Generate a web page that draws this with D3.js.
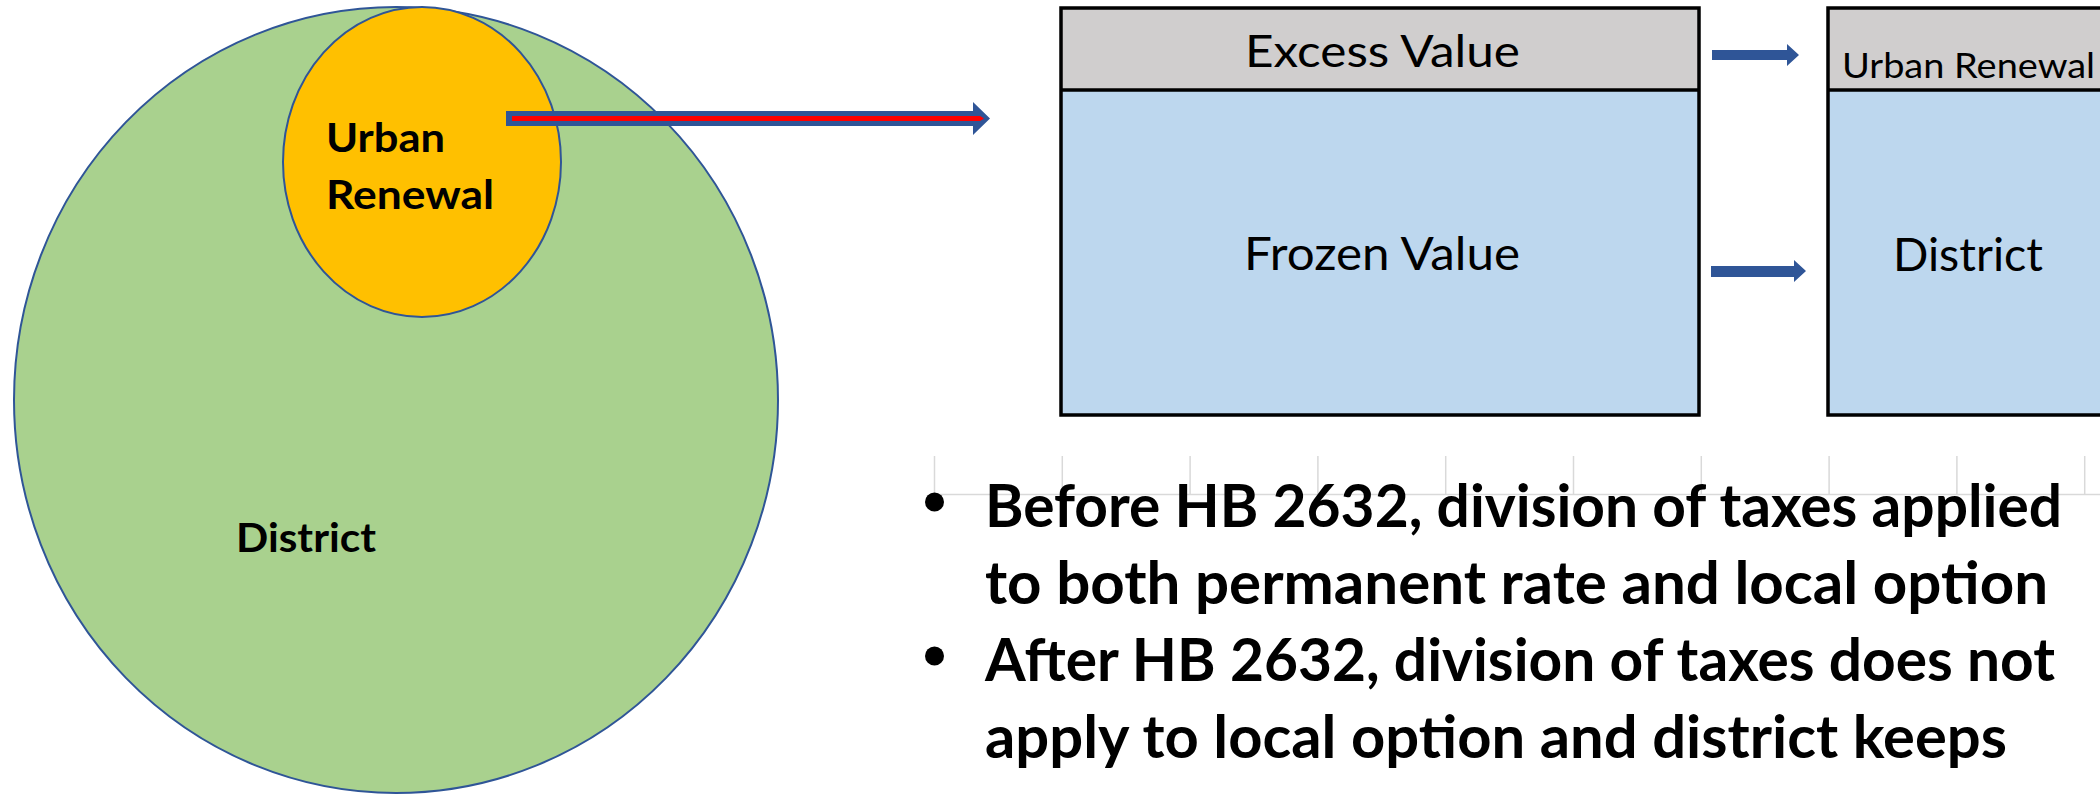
<!DOCTYPE html>
<html>
<head>
<meta charset="utf-8">
<script src="https://cdn.jsdelivr.net/npm/d3@7"></script>
<style>
  html, body { margin: 0; padding: 0; background: #fff; }
  svg { display: block; }
</style>
</head>
<body>
<div id="chart"></div>
<script>
// ------------------------------------------------------------
// Data: labels and text of the diagram
// ------------------------------------------------------------
const circleLabels = ["Urban", "Renewal"];
const districtLabel = "District";
const leftBoxLabels = ["Excess Value", "Frozen Value"];
const rightBoxLabels = ["Urban Renewal", "District"];
const bulletLines = [
  "Before HB 2632, division of taxes applied",
  "to both permanent rate and local option",
  "After HB 2632, division of taxes does not",
  "apply to local option and district keeps"
];
const bulletStarts = [0, 2];          // which lines carry a bullet
const gridTicks = [0, 1, 2, 3, 4, 5, 6, 7, 8, 9];

const W = 2100, H = 796;
const BLUE = "#2F5597";
const FONT = "Lato, 'Open Sans', 'Liberation Sans', sans-serif";

const svg = d3.select("#chart").append("svg")
  .attr("width", W).attr("height", H)
  .attr("viewBox", `0 0 ${W} ${H}`);

// ------------------------------------------------------------
// Faint axis / gridlines behind the bullet text
// ------------------------------------------------------------
const xGrid = d3.scaleLinear().domain([0, 10]).range([934, 2212]);
const gridG = svg.append("g")
  .attr("transform", "translate(0,494)")
  .call(d3.axisTop(xGrid).tickValues(gridTicks).tickSize(38).tickSizeOuter(0).tickFormat(""));
gridG.selectAll("path, line").attr("stroke", "#d9d9d9").attr("stroke-width", 1.5);

// ------------------------------------------------------------
// Circles
// ------------------------------------------------------------
svg.append("ellipse")
  .attr("cx", 396).attr("cy", 400).attr("rx", 382).attr("ry", 393)
  .attr("fill", "#A9D18E").attr("stroke", BLUE).attr("stroke-width", 2);

svg.append("ellipse")
  .attr("cx", 422).attr("cy", 162).attr("rx", 139).attr("ry", 155)
  .attr("fill", "#FFC000").attr("stroke", BLUE).attr("stroke-width", 2);

const circleW = [119, 168];
svg.selectAll("text.ur").data(circleLabels).join("text")
  .attr("class", "ur")
  .attr("x", 326).attr("y", (d, i) => 152 + i * 57)
  .attr("textLength", (d, i) => circleW[i]).attr("lengthAdjust", "spacingAndGlyphs")
  .style("font-family", FONT).style("font-weight", 700).style("font-size", "40px")
  .attr("fill", "#000").text(d => d);

svg.append("text")
  .attr("x", 236).attr("y", 552)
  .attr("textLength", 140).attr("lengthAdjust", "spacingAndGlyphs")
  .style("font-family", FONT).style("font-weight", 700).style("font-size", "40px")
  .attr("fill", "#000").text(districtLabel);

// ------------------------------------------------------------
// Big arrow from the urban renewal circle
// ------------------------------------------------------------
const bigArrow = d3.path();
bigArrow.moveTo(506, 111); bigArrow.lineTo(973, 111); bigArrow.lineTo(973, 102);
bigArrow.lineTo(990, 118.5); bigArrow.lineTo(973, 135); bigArrow.lineTo(973, 126);
bigArrow.lineTo(506, 126); bigArrow.closePath();
svg.append("path").attr("d", bigArrow.toString()).attr("fill", BLUE);

svg.append("path")
  .attr("d", "M512,116 L980,116 L984,118.5 L980,121 L512,121 Z")
  .attr("fill", "#FF0000");

// ------------------------------------------------------------
// Boxes
// ------------------------------------------------------------
function box(x0, w) {
  svg.append("rect").attr("x", x0).attr("y", 8).attr("width", w).attr("height", 82)
    .attr("fill", "#D0CECE");
  svg.append("rect").attr("x", x0).attr("y", 90).attr("width", w).attr("height", 325)
    .attr("fill", "#BDD7EE");
  svg.append("rect").attr("x", x0).attr("y", 8).attr("width", w).attr("height", 407)
    .attr("fill", "none").attr("stroke", "#000").attr("stroke-width", 3.5);
  svg.append("line").attr("x1", x0).attr("x2", x0 + w).attr("y1", 90).attr("y2", 90)
    .attr("stroke", "#000").attr("stroke-width", 3.5);
}
box(1061, 638);
box(1828, 638);

const textStyle = sel => sel.style("font-family", FONT).style("font-weight", 400)
  .attr("fill", "#000").attr("lengthAdjust", "spacingAndGlyphs");

svg.append("text").call(textStyle)
  .attr("x", 1245).attr("y", 67).attr("textLength", 275)
  .style("font-size", "45px").text(leftBoxLabels[0]);
svg.append("text").call(textStyle)
  .attr("x", 1244).attr("y", 270).attr("textLength", 276)
  .style("font-size", "46px").text(leftBoxLabels[1]);
svg.append("text").call(textStyle)
  .attr("x", 1842).attr("y", 78).attr("textLength", 253)
  .style("font-size", "35px").text(rightBoxLabels[0]);
svg.append("text").call(textStyle)
  .attr("x", 1893).attr("y", 271).attr("textLength", 150)
  .style("font-size", "47px").text(rightBoxLabels[1]);

// small arrows between boxes
function smallArrow(x0, xb, xt, y0, y1, h0, h1) {
  const p = d3.path();
  p.moveTo(x0, y0); p.lineTo(xb, y0); p.lineTo(xb, h0); p.lineTo(xt, (h0 + h1) / 2);
  p.lineTo(xb, h1); p.lineTo(xb, y1); p.lineTo(x0, y1); p.closePath();
  svg.append("path").attr("d", p.toString()).attr("fill", BLUE);
}
smallArrow(1712, 1787, 1799, 50, 60, 44, 66);
smallArrow(1711, 1794, 1806, 266, 277, 260, 282);

// ------------------------------------------------------------
// Bullet text
// ------------------------------------------------------------
const lineW = [1077, 1063, 1070, 1022];
const yLine = d3.scalePoint().domain(d3.range(bulletLines.length)).range([527, 758]);

svg.selectAll("text.bl").data(bulletLines).join("text")
  .attr("class", "bl")
  .attr("x", 985).attr("y", (d, i) => yLine(i))
  .attr("textLength", (d, i) => lineW[i]).attr("lengthAdjust", "spacingAndGlyphs")
  .style("font-family", FONT).style("font-weight", 700).style("font-size", "60px")
  .attr("fill", "#000").text(d => d);

svg.selectAll("circle.dot").data(bulletStarts).join("circle")
  .attr("class", "dot")
  .attr("cx", 934.5).attr("cy", d => yLine(d) - 25)
  .attr("r", 9.5).attr("fill", "#000");
</script>
</body>
</html>
